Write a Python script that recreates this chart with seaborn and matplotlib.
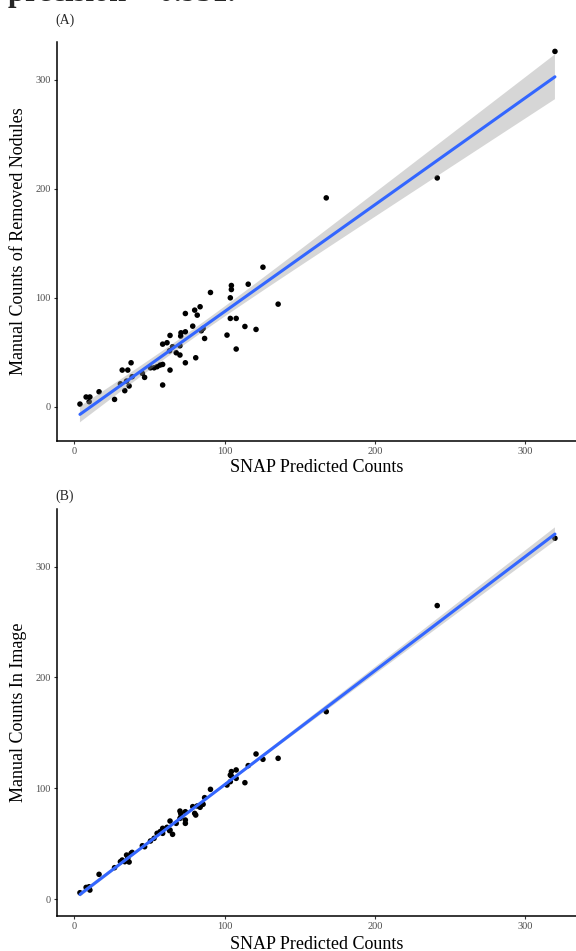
import matplotlib
matplotlib.use("Agg")
import matplotlib.pyplot as plt
import seaborn as sns
import numpy as np
import pandas as pd

# ---- data ----
snap_pred = [3.7, 7.8, 10.3, 9.8, 16.4, 26.7, 30.6, 31.8, 35.5, 33.5, 34.7, 36.4, 37.7, 38.4,
             45.2, 46.7, 50.6, 53.0, 55.0, 57.0, 58.7, 58.7, 58.7, 61.6, 63.3, 63.6, 63.6, 65.3,
             67.7, 70.2, 70.2, 70.7, 70.9, 73.8, 73.8, 73.8, 78.7, 80.0, 80.7, 81.7, 83.6, 84.4,
             85.6, 86.6, 90.5, 101.5, 103.7, 103.7, 104.4, 104.4, 107.6, 107.6, 113.4, 115.6,
             120.8, 125.4, 135.5, 167.5, 241.3, 319.6]
manual_removed = [2.4, 8.9, 8.9, 4.6, 13.7, 6.7, 21.0, 33.6, 33.6, 14.7, 23.5, 19.0, 40.3, 27.5,
                  30.6, 26.9, 35.7, 35.7, 36.7, 38.2, 38.8, 19.9, 57.4, 58.7, 51.3, 33.6, 65.4, 55.0,
                  49.5, 47.4, 55.9, 64.8, 67.8, 68.7, 85.5, 40.3, 73.9, 88.6, 44.9, 84.0, 91.7, 69.7,
                  71.8, 62.6, 104.8, 65.7, 99.9, 81.0, 111.2, 107.5, 81.0, 52.9, 73.6, 112.4,
                  70.9, 128.0, 94.1, 191.6, 209.9, 326.0]
manual_image = [5.7, 10.5, 8.1, 11.1, 22.3, 28.3, 33.7, 35.2, 36.7, 33.7, 39.7, 33.4, 41.2, 42.1,
                48.1, 47.2, 52.4, 54.8, 59.3, 60.8, 62.3, 59.3, 63.8, 64.7, 61.7, 70.4, 62.3, 58.4,
                68.3, 79.4, 72.8, 77.3, 74.3, 68.3, 78.8, 71.3, 83.4, 77.3, 75.8, 84.0, 82.8, 84.9,
                85.5, 91.5, 99.0, 102.9, 111.9, 105.9, 115.0, 111.0, 116.5, 108.9, 105.0, 120.4,
                130.9, 126.1, 127.0, 169.1, 264.8, 325.6]
y_ticks = [0, 100, 200, 300]
x_ticks = [0, 100, 200, 300]
panel_labels = ["(A)", "(B)"]
y_titles = ["Manual Counts of Removed Nodules", "Manual Counts In Image"]
x_title = "SNAP Predicted Counts"
top_text = "precision = 0.951."

df = pd.DataFrame({"pred": snap_pred, "removed": manual_removed, "image": manual_image})


def lm_band(x, y, level_t=2.0017, n=100):
    """Analytic 95% confidence band for a simple linear fit (like ggplot's geom_smooth)."""
    x = np.asarray(x, float)
    y = np.asarray(y, float)
    slope, icpt = np.polyfit(x, y, 1)
    resid = y - (slope * x + icpt)
    s = np.sqrt(np.sum(resid ** 2) / (len(x) - 2))
    g = np.linspace(x.min(), x.max(), n)
    se = s * np.sqrt(1 / len(x) + (g - x.mean()) ** 2 / np.sum((x - x.mean()) ** 2))
    fit = slope * g + icpt
    return g, fit - level_t * se, fit + level_t * se


sns.set_style("ticks")
plt.rcParams["font.family"] = ["Liberation Serif", "DejaVu Serif"]

W, H = 576, 951
fig = plt.figure(figsize=(W / 100, H / 100), dpi=100)

# axes positions in pixels: (left, top, right, bottom)
boxes = [(56.8, 41.7, 576, 440.7), (56.8, 509.3, 576, 916.0)]
ylims = [(-31.2, 334.9), (-15.3, 351.7)]
ycols = ["removed", "image"]
xlabel_y = [-0.046, -0.049]

for i in range(2):
    l, t, r, b = boxes[i]
    ax = fig.add_axes([l / W, 1 - b / H, (r - l) / W, (b - t) / H])
    sns.regplot(data=df, x="pred", y=ycols[i], ax=ax, ci=None,
                scatter_kws=dict(s=16, color="black", edgecolor="none", alpha=1, zorder=2),
                line_kws=dict(color="#3366FF", lw=2.2, zorder=4))
    g, lo, hi = lm_band(df["pred"], df[ycols[i]])
    ax.fill_between(g, lo, hi, facecolor=(0.6, 0.6, 0.6, 0.4), edgecolor="none", zorder=3)
    ax.set_xlim(-11.7, 333.6)
    ax.set_ylim(*ylims[i])
    ax.set_xticks(x_ticks)
    ax.set_yticks(y_ticks)
    ax.tick_params(axis="both", labelsize=7.5, labelcolor="#4D4D4D", color="#333333",
                   length=2.5, width=0.8, pad=2)
    for s in ["top", "right"]:
        ax.spines[s].set_visible(False)
    for s in ["left", "bottom"]:
        ax.spines[s].set_color("black")
        ax.spines[s].set_linewidth(1.1)
    ax.set_xlabel(x_title, fontsize=13, color="black")
    ax.set_ylabel(y_titles[i], fontsize=13, color="black")
    ax.xaxis.set_label_coords(0.5, xlabel_y[i])
    ax.yaxis.set_label_coords(-(l - 27.5) / (r - l), 0.5)
    ax.set_facecolor("white")

fig.text(55 / W, 1 - 20 / H, panel_labels[0], fontsize=10, va="center", ha="left")
fig.text(55 / W, 1 - 496 / H, panel_labels[1], fontsize=10, va="center", ha="left")
fig.text(8 / W, 1 - 1.0 / H, top_text, fontsize=22, fontweight="bold", va="baseline", ha="left")

fig.savefig("out.png", dpi=100, facecolor="white")
